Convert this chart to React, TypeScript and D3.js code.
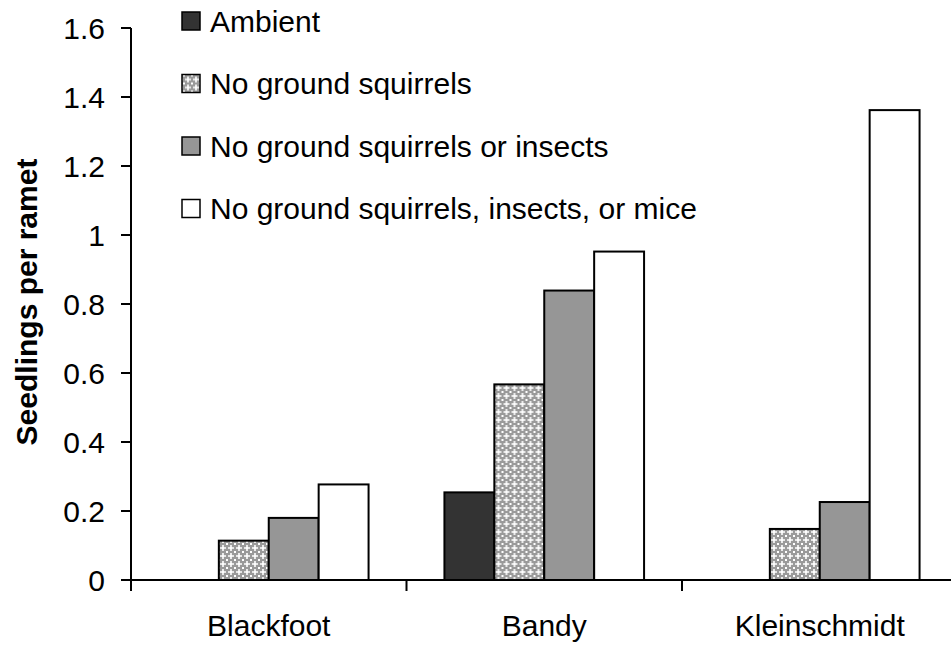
import React from "react";
import * as d3 from "d3";

const categories = ["Blackfoot", "Bandy", "Kleinschmidt"];
const seriesNames = [
  "Ambient",
  "No ground squirrels",
  "No ground squirrels or insects",
  "No ground squirrels, insects, or mice",
];
const ambient = [0, 0.254, 0];
const noSquirrels = [0.114, 0.567, 0.148];
const noSquirrelsInsects = [0.18, 0.839, 0.226];
const noAll = [0.277, 0.952, 1.362];
const yTicks = [0, 0.2, 0.4, 0.6, 0.8, 1, 1.2, 1.4, 1.6];

const seriesValues = [ambient, noSquirrels, noSquirrelsInsects, noAll];
const fills = ["#333333", "url(#hatch)", "#969696", "#ffffff"];

const W = 951;
const H = 646;
const FONT = "'Liberation Sans', Arial, Helvetica, sans-serif";

export default function App() {
  const x0 = d3
    .scaleBand<string>()
    .domain(categories)
    .range([131, 131 + 3 * 275.5])
    .padding(0);
  const x1 = d3
    .scaleBand<string>()
    .domain(seriesNames)
    .range([0, x0.bandwidth()])
    .paddingInner(0)
    .paddingOuter(0.76);
  const y = d3.scaleLinear().domain([0, 1.6]).range([580, 28]);
  const fmt = d3.format("~g");

  const legendY = d3.scalePoint<string>().domain(seriesNames).range([21, 208.5]);

  return (
    <svg
      width={W}
      height={H}
      style={{ position: "absolute", left: 0, top: 0, background: "#fff" }}
      fontFamily={FONT}
    >
      <defs>
        <pattern id="hatch" width="8" height="8" patternUnits="userSpaceOnUse">
          <rect width="8" height="8" fill="#9a9a9a" />
          <path d="M4 1 V7 M1 4 H7" stroke="#ffffff" strokeWidth="1.6" />
          <path d="M0 0 h1 v1 h-1z M7 0 h1 v1 h-1z M0 7 h1 v1 h-1z M7 7 h1 v1 h-1z" fill="#ffffff" />
          <circle cx="4" cy="4" r="1" fill="#ffffff" />
        </pattern>
      </defs>
      <rect width={W} height={H} fill="#fff" />

      {/* bars */}
      {categories.map((c, ci) => (
        <g key={c} transform={`translate(${x0(c)},0)`}>
          {seriesNames.map((s, si) => {
            const v = seriesValues[si][ci];
            if (!v) return null;
            return (
              <rect
                key={s}
                x={x1(s)}
                y={y(v)}
                width={x1.bandwidth()}
                height={y(0) - y(v)}
                fill={fills[si]}
                stroke="#000"
                strokeWidth={2}
              />
            );
          })}
        </g>
      ))}

      {/* y axis */}
      <line x1={131} x2={131} y1={y(1.6)} y2={591} stroke="#000" strokeWidth={2} />
      {yTicks.map((t) => (
        <g key={t}>
          <line x1={121} x2={131} y1={y(t)} y2={y(t)} stroke="#000" strokeWidth={2} />
          <text
            x={105}
            y={y(t)}
            textAnchor="end"
            dominantBaseline="central"
            fontSize={30}
            fill="#000"
          >
            {fmt(t)}
          </text>
        </g>
      ))}

      {/* x axis */}
      <line x1={131} x2={W} y1={y(0)} y2={y(0)} stroke="#000" strokeWidth={2} />
      {categories.map((c) => (
        <line
          key={"t" + c}
          x1={(x0(c) as number) + x0.bandwidth()}
          x2={(x0(c) as number) + x0.bandwidth()}
          y1={y(0)}
          y2={591}
          stroke="#000"
          strokeWidth={2}
        />
      ))}
      {categories.map((c) => (
        <text
          key={"l" + c}
          x={(x0(c) as number) + x0.bandwidth() / 2}
          y={636}
          textAnchor="middle"
          fontSize={30}
          fill="#000"
        >
          {c}
        </text>
      ))}

      {/* y title */}
      <text
        transform={`translate(37,302) rotate(-90)`}
        textAnchor="middle"
        fontSize={30}
        fontWeight="bold"
        fill="#000"
      >
        Seedlings per ramet
      </text>

      {/* legend */}
      {seriesNames.map((s, si) => (
        <g key={"lg" + s} transform={`translate(0,${legendY(s)})`}>
          <rect x={182} y={-9} width={18} height={18} fill={fills[si]} stroke="#000" strokeWidth={1.5} />
          <text x={210} y={0} dominantBaseline="central" fontSize={30} fill="#000">
            {s}
          </text>
        </g>
      ))}
    </svg>
  );
}
